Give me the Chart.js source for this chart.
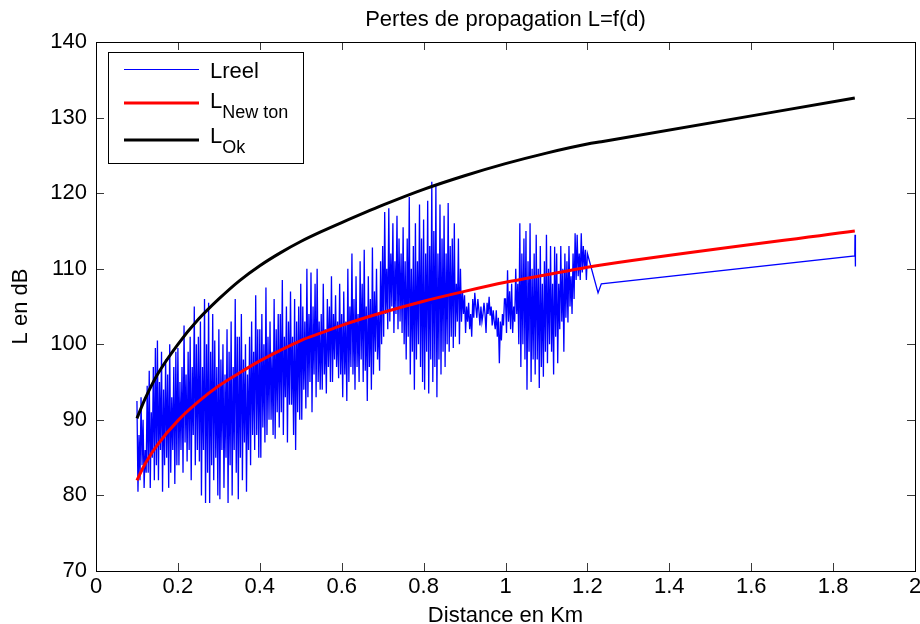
<!DOCTYPE html>
<html>
<head>
<meta charset="utf-8">
<script src="https://cdn.jsdelivr.net/npm/chart.js@4.4.1/dist/chart.umd.min.js"></script>
<style>
  body { margin: 0; background: #fff; }
  canvas { display: block; }
</style>
</head>
<body>
<canvas id="myChart" width="920" height="624"></canvas>
<script>
const chartTitle = 'Pertes de propagation L=f(d)';
const xTitle = 'Distance en Km';
const yTitle = 'L en dB';

// measured path loss (blue)
const distReel = [
  0.1000,0.1025,0.1050,0.1075,0.1100,0.1125,0.1150,0.1175,0.1200,0.1225,
  0.1250,0.1275,0.1300,0.1325,0.1350,0.1375,0.1400,0.1425,0.1450,0.1475,
  0.1500,0.1525,0.1550,0.1575,0.1600,0.1625,0.1650,0.1675,0.1700,0.1725,
  0.1750,0.1775,0.1800,0.1825,0.1850,0.1875,0.1900,0.1925,0.1950,0.1975,
  0.2000,0.2025,0.2050,0.2075,0.2100,0.2125,0.2150,0.2175,0.2200,0.2225,
  0.2250,0.2275,0.2300,0.2325,0.2350,0.2375,0.2400,0.2425,0.2450,0.2475,
  0.2500,0.2525,0.2550,0.2575,0.2600,0.2625,0.2650,0.2675,0.2700,0.2725,
  0.2750,0.2775,0.2800,0.2825,0.2850,0.2875,0.2900,0.2925,0.2950,0.2975,
  0.3000,0.3025,0.3050,0.3075,0.3100,0.3125,0.3150,0.3175,0.3200,0.3225,
  0.3250,0.3275,0.3300,0.3325,0.3350,0.3375,0.3400,0.3425,0.3450,0.3475,
  0.3500,0.3525,0.3550,0.3575,0.3600,0.3625,0.3650,0.3675,0.3700,0.3725,
  0.3750,0.3775,0.3800,0.3825,0.3850,0.3875,0.3900,0.3925,0.3950,0.3975,
  0.4000,0.4025,0.4050,0.4075,0.4100,0.4125,0.4150,0.4175,0.4200,0.4225,
  0.4250,0.4275,0.4300,0.4325,0.4350,0.4375,0.4400,0.4425,0.4450,0.4475,
  0.4500,0.4525,0.4550,0.4575,0.4600,0.4625,0.4650,0.4675,0.4700,0.4725,
  0.4750,0.4775,0.4800,0.4825,0.4850,0.4875,0.4900,0.4925,0.4950,0.4975,
  0.5000,0.5025,0.5050,0.5075,0.5100,0.5125,0.5150,0.5175,0.5200,0.5225,
  0.5250,0.5275,0.5300,0.5325,0.5350,0.5375,0.5400,0.5425,0.5450,0.5475,
  0.5500,0.5525,0.5550,0.5575,0.5600,0.5625,0.5650,0.5675,0.5700,0.5725,
  0.5750,0.5775,0.5800,0.5825,0.5850,0.5875,0.5900,0.5925,0.5950,0.5975,
  0.6000,0.6025,0.6050,0.6075,0.6100,0.6125,0.6150,0.6175,0.6200,0.6225,
  0.6250,0.6275,0.6300,0.6325,0.6350,0.6375,0.6400,0.6425,0.6450,0.6475,
  0.6500,0.6525,0.6550,0.6575,0.6600,0.6625,0.6650,0.6675,0.6700,0.6725,
  0.6750,0.6775,0.6800,0.6825,0.6850,0.6875,0.6900,0.6925,0.6950,0.6975,
  0.7000,0.7025,0.7050,0.7075,0.7100,0.7125,0.7150,0.7175,0.7200,0.7225,
  0.7250,0.7275,0.7300,0.7325,0.7350,0.7375,0.7400,0.7425,0.7450,0.7475,
  0.7500,0.7525,0.7550,0.7575,0.7600,0.7625,0.7650,0.7675,0.7700,0.7725,
  0.7750,0.7775,0.7800,0.7825,0.7850,0.7875,0.7900,0.7925,0.7950,0.7975,
  0.8000,0.8025,0.8050,0.8075,0.8100,0.8125,0.8150,0.8175,0.8200,0.8225,
  0.8250,0.8275,0.8300,0.8325,0.8350,0.8375,0.8400,0.8425,0.8450,0.8475,
  0.8500,0.8525,0.8550,0.8575,0.8600,0.8625,0.8650,0.8675,0.8700,0.8725,
  0.8750,0.8775,0.8800,0.8825,0.8850,0.8875,0.8900,0.8925,0.8950,0.8975,
  0.9000,0.9025,0.9050,0.9075,0.9100,0.9125,0.9150,0.9175,0.9200,0.9225,
  0.9250,0.9275,0.9300,0.9325,0.9350,0.9375,0.9400,0.9425,0.9450,0.9475,
  0.9500,0.9525,0.9550,0.9575,0.9600,0.9625,0.9650,0.9675,0.9700,0.9725,
  0.9750,0.9775,0.9800,0.9825,0.9850,0.9875,0.9900,0.9925,0.9950,0.9975,
  1.0000,1.0025,1.0050,1.0075,1.0100,1.0125,1.0150,1.0175,1.0200,1.0225,
  1.0250,1.0275,1.0300,1.0325,1.0350,1.0375,1.0400,1.0425,1.0450,1.0475,
  1.0500,1.0525,1.0550,1.0575,1.0600,1.0625,1.0650,1.0675,1.0700,1.0725,
  1.0750,1.0775,1.0800,1.0825,1.0850,1.0875,1.0900,1.0925,1.0950,1.0975,
  1.1000,1.1025,1.1050,1.1075,1.1100,1.1125,1.1150,1.1175,1.1200,1.1225,
  1.1250,1.1275,1.1300,1.1325,1.1350,1.1375,1.1400,1.1425,1.1450,1.1475,
  1.1500,1.1525,1.1550,1.1575,1.1600,1.1625,1.1650,1.1675,1.1700,1.1725,
  1.1750,1.1775,1.1800,1.1825,1.1850,1.1875,1.1900,1.1925,1.1950,1.1975,
  1.200,1.226,1.234,1.853,1.8535,1.854,1.855
];
const lReel = [
  92.5,80.5,88,82,93,84,90,81,86,83,
  94.5,83,96.5,81,91,85,97,82,99.5,84,
  100.5,82,95,86,99,80.5,94,84,98,85,
  96,81,100,83,93,86,97,81.5,99,84,
  99.5,84,95,86,97,83,102.5,87,96,84.5,
  99,86,101,82,97,88,105,84,100,86,
  101,84.5,103,80,97,86,106,79,100,83,
  105.5,79,99,84,104,82,100.5,85,97,80,
  102,79.5,98,86,100,81,96,85,102,79,
  99,84,103,80,97,86,106,83,101,79.5,
  101,85,104,82,98,87,100,80.5,96,86,
  101,84,103,88,99,86,106.5,88,102,85,
  102,85,104,89,100,87,107.5,88,101,90,
  103,90,99,88,106,87.5,102,91,104,89,
  104,91,108.5,88,101,93,105,87,103,92,
  107,92,101,88,106,86,103,91,105,90,
  108,90,105,94,103,91.5,110,93,104,95,
  109.5,91,105,96,108,93,110,95,103,94,
  104,94,108,96,102,93.5,106,97,105,95,
  109,95,104,98,106.5,97,103,95.5,108,96,
  104,93,107,96,103,92.5,110,95,105,97,
  112,96,106,94,109,97,104,95,111,98,
  108,95,112.5,96.5,105,92.5,109,97,106,94,
  112.8,96,107,99,110,98,104,96.5,111,100,
  113,101,117.5,104,110,102,118,103,112,105,
  116,101.5,111,104,117,102,114,103,112,101.5,
  115.5,100,111,98,114,101,119.5,96,110,99,
  113,94,116,98,111,100,118.5,97,114,95,
  116.5,94,112,99,119,93.5,113,98,121.5,95,
  115,97,121,93,112,98,118.5,96,114,99,
  117,97,112,100,118.7,99,113,101,114,99.5,
  116,101,108,103,114,100,110,103,107,104,
  106.5,101.5,105,103,105.5,102,104,101,106,103.5,
  106.8,105,103.5,106,104.5,102.5,105,103,104,105.5,
  104,101.5,105.5,104,106.3,103.8,105,102.5,104.5,103,
  102,104.5,101,103.5,97.5,103,100.5,104,102.5,106,
  106,101.5,109.8,103,107,102,108,101.5,105,103,
  110,104,108,100,116,97,112,100,114,98,
  115,94,111,99,116,95,110,98,112,96,
  114.5,98,110,94.2,113,97,108,95.7,111,99,
  114.5,97.5,110,100,113,99,108,96,112.9,101,
  112,97.5,108,102,113,103,110,99,112,103.5,
  111,102.9,113,105,109,104,112,106,114.7,108.5,
  114.5,109,112,108.5,114.7,109.5,113,110,112.5,108.5,
  112,106.8,108,111.7,114.5,110.3,113
];

// model curves
const distModel = [0.10,0.12,0.15,0.2,0.25,0.3,0.35,0.4,0.45,0.5,0.55,0.6,0.7,0.8,0.9,1.0,1.1,1.2,1.234,1.853];
const lNewton = [82.0,84.2,86.7,89.9,92.4,94.5,96.2,97.8,99.2,100.5,101.5,102.5,104.2,105.7,107.0,108.2,109.2,110.2,110.5,115.0];
const lOk = [90.2,92.8,96.0,100.0,103.3,106.0,108.4,110.4,112.1,113.6,114.9,116.1,118.4,120.5,122.3,123.9,125.3,126.5,126.8,132.6];

const xTicks = [0,0.2,0.4,0.6,0.8,1,1.2,1.4,1.6,1.8,2];
const xTickLabels = ['0','0.2','0.4','0.6','0.8','1','1.2','1.4','1.6','1.8','2'];
const yTicks = [70,80,90,100,110,120,130,140];

const legendNames = ['Lreel','L','L'];
const legendSubs = ['','New ton','Ok'];
const legendWidths = [1, 3, 3];

const FONT = '"Liberation Sans", Arial, sans-serif';

const toPoints = (xs, ys) => xs.map((d, i) => ({ x: d, y: ys[i] }));

const matlabFrame = {
  id: 'matlabFrame',
  afterDraw(chart) {
    const { ctx, chartArea: a, scales: { x, y } } = chart;
    ctx.save();
    // inward ticks on all four sides
    ctx.strokeStyle = '#3a3a3a';
    ctx.lineWidth = 1;
    ctx.beginPath();
    xTicks.forEach(v => {
      const px = Math.round(x.getPixelForValue(v)) + 0.5;
      ctx.moveTo(px, a.bottom); ctx.lineTo(px, a.bottom - 8);
      ctx.moveTo(px, a.top); ctx.lineTo(px, a.top + 8);
    });
    yTicks.forEach(v => {
      const py = Math.round(y.getPixelForValue(v)) + 0.5;
      ctx.moveTo(a.left, py); ctx.lineTo(a.left + 8, py);
      ctx.moveTo(a.right, py); ctx.lineTo(a.right - 8, py);
    });
    ctx.stroke();
    ctx.strokeStyle = '#000';
    ctx.strokeRect(Math.round(a.left) + 0.5, Math.round(a.top) + 0.5,
      Math.round(a.right - a.left), Math.round(a.bottom - a.top));

    // title over the axes
    ctx.fillStyle = '#000';
    ctx.font = '22px ' + FONT;
    ctx.textAlign = 'center';
    ctx.textBaseline = 'alphabetic';
    ctx.fillText(chartTitle, (a.left + a.right) / 2, 26);

    // legend with subscripts
    ctx.fillStyle = '#fff';
    ctx.fillRect(108.5, 52.5, 195, 111);
    ctx.strokeStyle = '#000';
    ctx.lineWidth = 1;
    ctx.strokeRect(108.5, 52.5, 195, 111);
    const rows = [69.5, 103, 140];
    const base = [8.5, 4.5, 3];
    chart.data.datasets.forEach((ds, i) => {
      ctx.strokeStyle = ds.borderColor;
      ctx.lineWidth = legendWidths[i];
      ctx.beginPath();
      ctx.moveTo(124, rows[i]);
      ctx.lineTo(199, rows[i]);
      ctx.stroke();
      ctx.fillStyle = '#000';
      ctx.textAlign = 'left';
      ctx.font = '22px ' + FONT;
      const by = rows[i] + base[i];
      ctx.fillText(legendNames[i], 210, by);
      if (legendSubs[i]) {
        const w = ctx.measureText(legendNames[i]).width;
        ctx.font = '18px ' + FONT;
        ctx.fillText(legendSubs[i], 210 + w, by + 10);
      }
    });
    ctx.restore();
  }
};

new Chart(document.getElementById('myChart'), {
  type: 'line',
  data: {
    datasets: [
      {
        label: 'Lreel',
        data: toPoints(distReel, lReel),
        borderColor: '#0000ff',
        borderWidth: 1.3,
        pointRadius: 0,
        tension: 0,
        order: 2
      },
      {
        label: 'LNewton',
        data: toPoints(distModel, lNewton),
        borderColor: '#ff0000',
        borderWidth: 3,
        pointRadius: 0,
        cubicInterpolationMode: 'monotone',
        order: 1
      },
      {
        label: 'LOk',
        data: toPoints(distModel, lOk),
        borderColor: '#000000',
        borderWidth: 3,
        pointRadius: 0,
        cubicInterpolationMode: 'monotone',
        order: 0
      }
    ]
  },
  options: {
    responsive: false,
    animation: false,
    layout: { padding: { top: 42, right: 5, left: 0, bottom: 0 } },
    plugins: {
      legend: { display: false },
      title: { display: false },
      tooltip: { enabled: false }
    },
    scales: {
      x: {
        type: 'linear',
        min: 0,
        max: 2,
        grid: { display: false, drawTicks: false },
        border: { display: false },
        afterBuildTicks: (scale) => { scale.ticks = xTicks.map(v => ({ value: v })); },
        afterFit: (scale) => { scale.height = 53; scale.paddingLeft = 0; scale.paddingRight = 0; },
        ticks: {
          autoSkip: false,
          maxRotation: 0,
          padding: 3,
          color: '#000',
          font: { family: FONT, size: 22 },
          callback: (value, index) => xTickLabels[index]
        },
        title: {
          display: true,
          text: xTitle,
          color: '#000',
          padding: 0,
          font: { family: FONT, size: 22, lineHeight: 0.77 }
        }
      },
      y: {
        type: 'linear',
        min: 70,
        max: 140,
        grid: { display: false, drawTicks: false },
        border: { display: false },
        afterBuildTicks: (scale) => { scale.ticks = yTicks.map(v => ({ value: v })); },
        afterFit: (scale) => { scale.width = 96; },
        ticks: {
          padding: 9,
          color: '#000',
          font: { family: FONT, size: 22 },
          callback: (value) => String(value)
        },
        title: {
          display: true,
          text: yTitle,
          color: '#000',
          padding: { top: 8, bottom: 0 },
          font: { family: FONT, size: 22 }
        }
      }
    }
  },
  plugins: [matlabFrame]
});
</script>
</body>
</html>
